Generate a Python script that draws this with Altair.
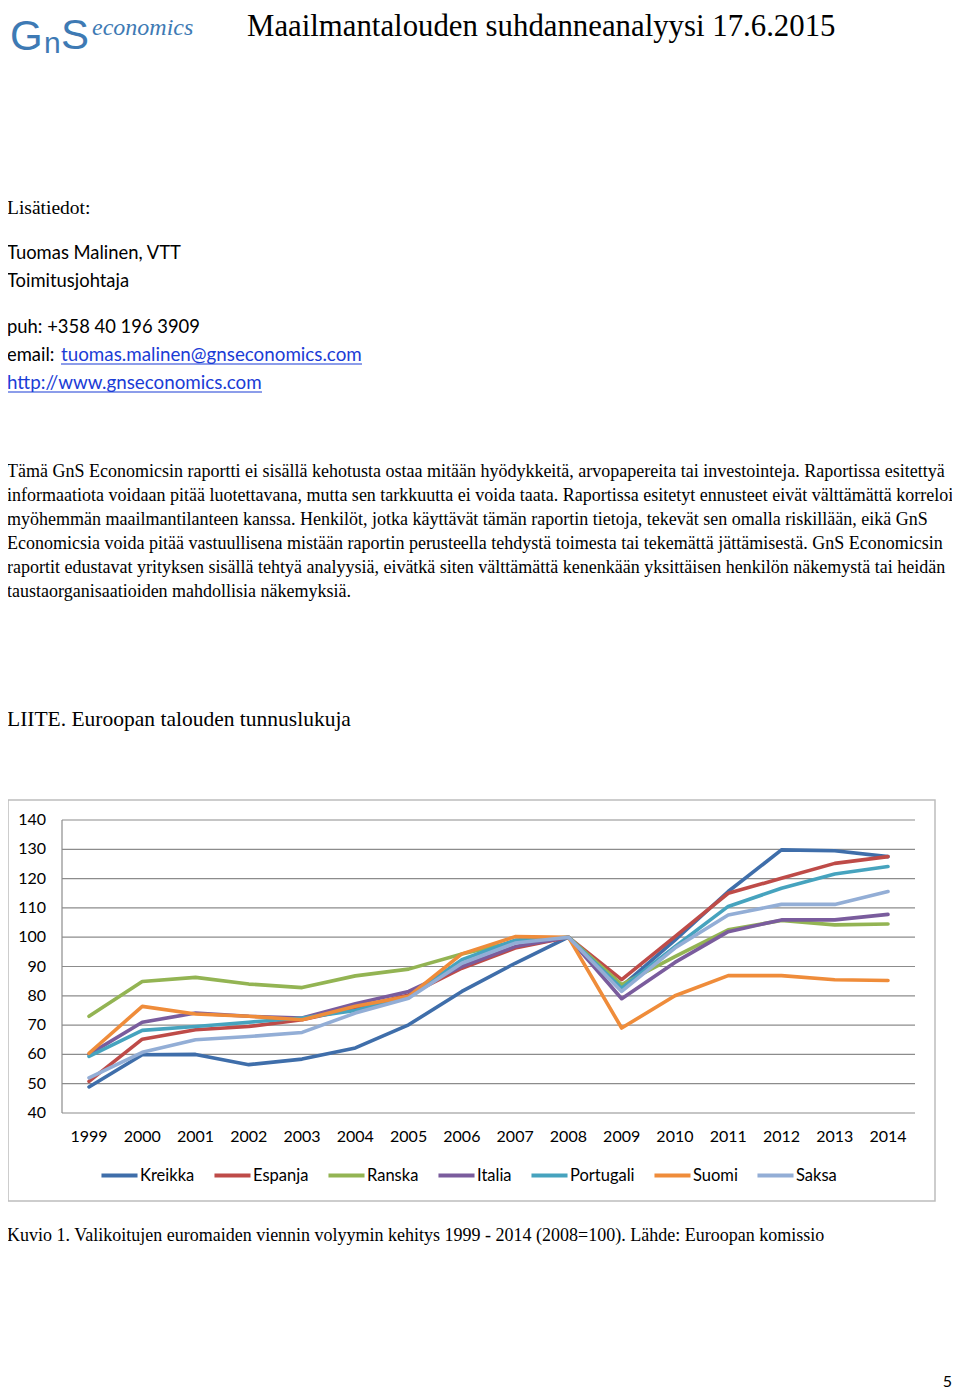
import altair as alt
import pandas as pd

# ---------------- data ----------------
years = list(range(1999, 2015))
series_names = ["Kreikka", "Espanja", "Ranska", "Italia", "Portugali", "Suomi", "Saksa"]
series_colors = ["#3F6EAA", "#BE4B48", "#93B453", "#7A5C9D", "#46A3BE", "#EF8C3A", "#93AED6"]

kreikka   = [48.9, 59.9, 60.0, 56.5, 58.4, 62.2, 70.1, 81.5, 91.1, 100, 83.2, 99.0, 115.6, 129.8, 129.5, 127.5]
espanja   = [50.8, 65.2, 68.4, 69.5, 71.8, 75.8, 80.3, 89.4, 96.3, 100, 85.5, 100.2, 115.0, 120.1, 125.2, 127.5]
ranska    = [73.0, 84.9, 86.3, 84.0, 82.8, 86.8, 89.1, 94.3, 98.5, 100, 83.8, 93.4, 102.5, 105.7, 104.2, 104.5]
italia    = [60.0, 71.0, 74.1, 73.0, 72.4, 77.3, 81.5, 90.0, 96.8, 100, 79.0, 91.4, 101.9, 105.9, 105.9, 107.8]
portugali = [59.3, 68.2, 69.5, 71.0, 72.4, 75.0, 79.8, 92.3, 99.0, 100, 82.6, 96.8, 110.5, 116.7, 121.6, 124.1]
suomi     = [60.4, 76.4, 73.8, 73.0, 71.8, 76.4, 79.8, 94.3, 100.2, 100, 69.0, 80.0, 86.9, 86.9, 85.5, 85.2]
saksa     = [52.0, 60.7, 65.0, 66.1, 67.5, 74.1, 79.2, 91.1, 98.0, 100, 81.5, 96.3, 107.6, 111.2, 111.2, 115.6]

y_ticks = [40, 50, 60, 70, 80, 90, 100, 110, 120, 130, 140]

header_title = "Maailmantalouden suhdanneanalyysi 17.6.2015"
contact_lines = ["Tuomas Malinen, VTT", "Toimitusjohtaja", "puh:  +358 40 196 3909"]
email_label = "email: "
email_addr = "tuomas.malinen@gnseconomics.com"
web_addr = "http://www.gnseconomics.com"
paragraph = [
    "Tämä GnS Economicsin raportti ei sisällä kehotusta ostaa mitään hyödykkeitä, arvopapereita tai investointeja. Raportissa esitettyä",
    "informaatiota voidaan pitää luotettavana, mutta sen tarkkuutta ei voida taata. Raportissa esitetyt ennusteet eivät välttämättä korreloi",
    "myöhemmän maailmantilanteen kanssa. Henkilöt, jotka käyttävät tämän raportin tietoja, tekevät sen omalla riskillään, eikä GnS",
    "Economicsia voida pitää vastuullisena mistään raportin perusteella tehdystä toimesta tai tekemättä jättämisestä. GnS Economicsin",
    "raportit edustavat yrityksen sisällä tehtyä analyysiä, eivätkä siten välttämättä kenenkään yksittäisen henkilön näkemystä tai heidän",
    "taustaorganisaatioiden mahdollisia näkemyksiä.",
]
appendix_title = "LIITE. Euroopan talouden tunnuslukuja"
caption = "Kuvio 1. Valikoitujen euromaiden viennin volyymin kehitys 1999 - 2014 (2008=100). Lähde: Euroopan komissio"

# ---------------- tables ----------------
all_series = [kreikka, espanja, ranska, italia, portugali, suomi, saksa]
rows = []
for name, vals in zip(series_names, all_series):
    for yr, v in zip(years, vals):
        rows.append({"maa": name, "vuosi": yr, "arvo": v})
df = pd.DataFrame(rows)
ticks_df = pd.DataFrame({"tick": y_ticks, "lab": [str(t) for t in y_ticks]})
years_df = pd.DataFrame({"vuosi": years, "lab": [str(y) for y in years]})

OFF = 8  # page margin
SERIF = "Liberation Serif"
SANS = "Lato"

xs = alt.Scale(domain=[1999, 2014], range=[89 - OFF, 888 - OFF])
ys = alt.Scale(domain=[40, 140], range=[1113 - OFF, 820 - OFF])


def txt(s, x, y, size, font=SERIF, color="#000000", align="left", italic=False, weight="normal"):
    kw = dict(align=align, baseline="middle", font=font, fontSize=size, color=color, fontWeight=weight)
    if italic:
        kw["fontStyle"] = "italic"
    return alt.Chart(pd.DataFrame({"t": [s]})).mark_text(**kw).encode(
        x=alt.value(x - OFF), y=alt.value(y - OFF), text="t:N")


def hline(x1, x2, y, color, width=1.0):
    return alt.Chart(pd.DataFrame({"d": [0]})).mark_rule(color=color, strokeWidth=width).encode(
        x=alt.value(x1 - OFF), x2=alt.value(x2 - OFF), y=alt.value(y - OFF))


layers = []

# logo
LOGO = "#3E7AB4"
layers.append(txt("G", 10, 37, 42, font="Liberation Sans", color=LOGO))
layers.append(txt("n", 44, 44, 30, font="Liberation Sans", color=LOGO))
layers.append(txt("S", 61, 36, 42, font="Liberation Sans", color=LOGO))
layers.append(txt("economics", 92, 28, 24, font=SERIF, color=LOGO, italic=True))
# header
layers.append(txt(header_title, 247, 27, 30.8, font=SERIF))

# contact
layers.append(txt("Lisätiedot:", 7, 208, 19.5, font=SERIF))
for s, yy in zip(contact_lines, [253, 281, 327]):
    layers.append(txt(s, 7, yy, 18.4, font=SANS))
layers.append(txt(email_label, 7, 355, 18.4, font=SANS))
layers.append(txt(email_addr, 61, 355, 18.8, font=SANS, color="#1B3CD6"))
layers.append(hline(61, 362, 364, "#1B3CD6", 1.2))
layers.append(txt(web_addr, 7, 383, 18.8, font=SANS, color="#1B3CD6"))
layers.append(hline(7, 262, 392, "#1B3CD6", 1.2))

# paragraph
for i, s in enumerate(paragraph):
    layers.append(txt(s, 7, 472 + 24 * i, 18.0, font=SERIF))

layers.append(txt(appendix_title, 7, 720, 21.5, font=SERIF))

# chart box
box = alt.Chart(pd.DataFrame({"d": [0]})).mark_rect(fill="white", stroke="#BDBDBD", strokeWidth=1.5).encode(
    x=alt.value(8 - OFF), x2=alt.value(935 - OFF), y=alt.value(800 - OFF), y2=alt.value(1201 - OFF))
layers.append(box)

# gridlines
grid = alt.Chart(ticks_df).mark_rule(color="#8C8C8C", strokeWidth=1.2).encode(
    y=alt.Y("tick:Q", scale=ys, axis=None),
    x=alt.value(62 - OFF), x2=alt.value(915 - OFF))
layers.append(grid)
yaxis_line = alt.Chart(pd.DataFrame({"d": [0]})).mark_rule(color="#8C8C8C", strokeWidth=1.2).encode(
    x=alt.value(62 - OFF), y=alt.value(820 - OFF), y2=alt.value(1113 - OFF))
layers.append(yaxis_line)

ylabels = alt.Chart(ticks_df).mark_text(align="right", baseline="middle", font=SANS, fontSize=16, color="#000").encode(
    y=alt.Y("tick:Q", scale=ys, axis=None), x=alt.value(46 - OFF), text="lab:N")
layers.append(ylabels)
xlabels = alt.Chart(years_df).mark_text(align="center", baseline="middle", font=SANS, fontSize=16, color="#000").encode(
    x=alt.X("vuosi:Q", scale=xs, axis=None), y=alt.value(1137 - OFF), text="lab:N")
layers.append(xlabels)

lines = alt.Chart(df).mark_line(strokeWidth=3.6, strokeJoin="round", strokeCap="round").encode(
    x=alt.X("vuosi:Q", scale=xs, axis=None),
    y=alt.Y("arvo:Q", scale=ys, axis=None),
    color=alt.Color("maa:N", sort=series_names,
                    scale=alt.Scale(domain=series_names, range=series_colors),
                    legend=alt.Legend(orient="none", legendX=99 - OFF, legendY=1155 - OFF,
                                      direction="horizontal", title=None,
                                      symbolType="stroke", symbolSize=1300, symbolStrokeWidth=4,
                                      labelFont=SANS, labelFontSize=16.5, labelColor="#000",
                                      labelOffset=0, columnPadding=11, labelLimit=200)),
    order=alt.Order("vuosi:Q"),
)
layers.append(lines)

# caption and page number
layers.append(txt(caption, 7, 1236, 18.0, font=SERIF))
layers.append(txt("5", 952, 1382, 16, font=SANS, align="right"))

chart = alt.layer(*layers).properties(
    width=944, height=1384,
    autosize=alt.AutoSizeParams(type="none"),
    padding=0,
    view=alt.ViewBackground(stroke="transparent", strokeWidth=0),
).configure_view(stroke="transparent", strokeWidth=0).configure(background="white")

chart.save("out.html", embed_options={"renderer": "svg", "actions": False})
